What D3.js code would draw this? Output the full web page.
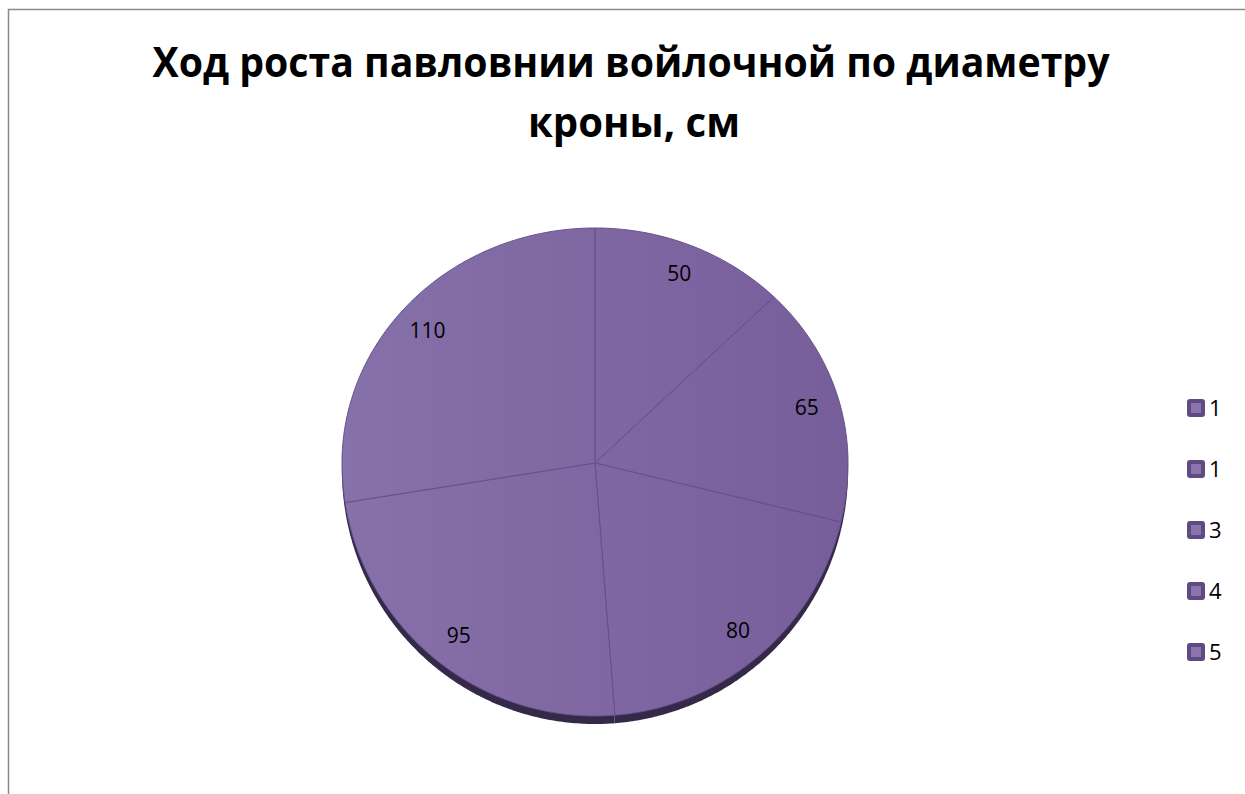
<!DOCTYPE html>
<html>
<head>
<meta charset="utf-8">
<script src="https://cdn.jsdelivr.net/npm/d3@7"></script>
<style>
  body { margin: 0; background: #fff; }
  svg { display: block; }
</style>
</head>
<body>
<div id="chart"></div>
<script>
var w = 1245;
var h = 794;

var title = ["Ход роста павловнии войлочной по диаметру", "кроны, см"];
var categories = ["1", "1", "3", "4", "5"];
var values = [50, 65, 80, 95, 110];

// pie geometry (slight perspective: top half flatter than bottom half)
var cx = 595, cy = 463;
var rx = 253, ryTop = 235, ryBot = 253;
var depth = 8;

var svg = d3.select("#chart")
    .append("svg")
    .attr("width", w)
    .attr("height", h);

var defs = svg.append("defs");
var grad = defs.append("linearGradient")
    .attr("id", "face")
    .attr("gradientUnits", "userSpaceOnUse")
    .attr("x1", cx - rx).attr("y1", cy)
    .attr("x2", cx + rx).attr("y2", cy);
grad.append("stop").attr("offset", "0%").attr("stop-color", "#8771aa");
grad.append("stop").attr("offset", "100%").attr("stop-color", "#765e9a");

// chart frame
svg.append("rect")
    .attr("x", 8.5).attr("y", 9.5)
    .attr("width", 1400).attr("height", 1000)
    .attr("fill", "none")
    .attr("stroke", "#8a8a8a")
    .attr("stroke-width", 1.5);

// title
var titleG = svg.append("g")
    .attr("font-family", "'Open Sans', sans-serif")
    .attr("font-weight", "bold")
    .attr("font-size", "41px")
    .attr("fill", "#000")
    .attr("text-anchor", "middle");

titleG.selectAll("text")
    .data(title)
    .enter()
    .append("text")
    .attr("x", function(d, i) { return i == 0 ? 631 : 634; })
    .attr("y", function(d, i) { return 77 + i * 60; })
    .attr("textLength", function(d, i) { return i == 0 ? 957 : 212; })
    .attr("lengthAdjust", "spacingAndGlyphs")
    .text(function(d) { return d; });

// point on the rim for angle a (clockwise from top)
function rim(a, k) {
    k = k || 1;
    var c = Math.cos(a), s = Math.sin(a);
    var ry = c > 0 ? ryTop : ryBot;
    return [cx + rx * s * k, cy - ry * c * k];
}

function slicePath(d, dy) {
    dy = dy || 0;
    var pts = [[cx, cy + dy]];
    var n = Math.max(2, Math.ceil((d.endAngle - d.startAngle) / 0.01));
    for (var j = 0; j <= n; j++) {
        var a = d.startAngle + (d.endAngle - d.startAngle) * j / n;
        var p = rim(a);
        pts.push([p[0], p[1] + dy]);
    }
    return d3.line()(pts) + "Z";
}

var pie = d3.pie().sort(null).value(function(d) { return d; });
var arcs = pie(values);

// side / depth
svg.append("g")
    .selectAll("path")
    .data(arcs)
    .enter()
    .append("path")
    .attr("d", function(d) { return slicePath(d, depth); })
    .attr("fill", "#35294a");

// top faces
svg.append("g")
    .selectAll("path")
    .data(arcs)
    .enter()
    .append("path")
    .attr("d", function(d) { return slicePath(d, 0); })
    .attr("fill", "url(#face)")
    .attr("stroke", "#67508c")
    .attr("stroke-width", 1);

// data labels
svg.append("g")
    .selectAll("text")
    .data(arcs)
    .enter()
    .append("text")
    .attr("x", function(d) { return rim((d.startAngle + d.endAngle) / 2, 0.87)[0]; })
    .attr("y", function(d) { return rim((d.startAngle + d.endAngle) / 2, 0.87)[1]; })
    .attr("dy", "0.35em")
    .attr("text-anchor", "middle")
    .attr("font-family", "'Open Sans', sans-serif")
    .attr("font-size", "21px")
    .attr("fill", "#000")
    .text(function(d) { return d.data; });

// legend
var legendY = d3.scalePoint()
    .domain(d3.range(categories.length))
    .range([408, 652]);

var legend = svg.append("g")
    .selectAll("g")
    .data(categories)
    .enter()
    .append("g")
    .attr("transform", function(d, i) { return "translate(1187," + legendY(i) + ")"; });

legend.append("rect")
    .attr("x", 0).attr("y", -9)
    .attr("width", 18).attr("height", 18)
    .attr("rx", 3)
    .attr("fill", "#5f4a82");

legend.append("rect")
    .attr("x", 4).attr("y", -5)
    .attr("width", 10).attr("height", 10)
    .attr("fill", "#8b74ae");

legend.append("text")
    .attr("x", 22)
    .attr("y", 0)
    .attr("dy", "0.36em")
    .attr("font-family", "'Open Sans', sans-serif")
    .attr("font-size", "22px")
    .attr("fill", "#000")
    .text(function(d) { return d; });
</script>
</body>
</html>
